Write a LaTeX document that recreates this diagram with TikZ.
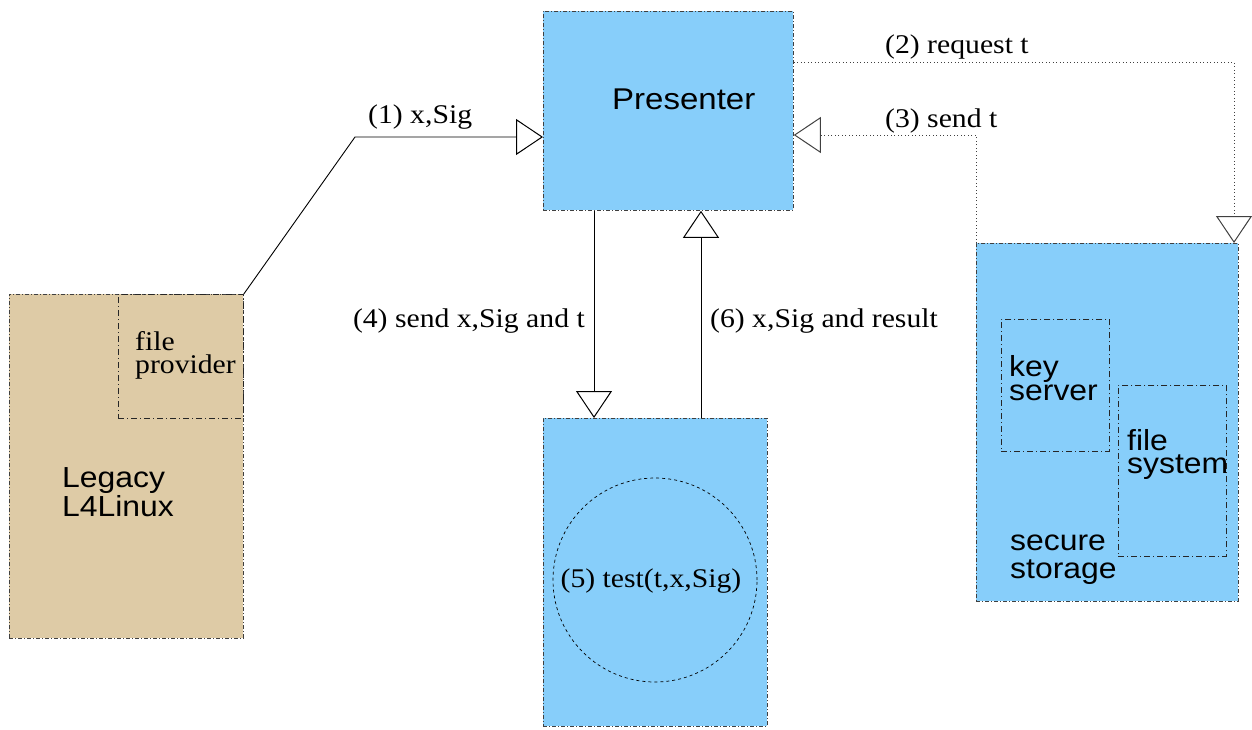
\documentclass[tikz,border=0pt]{standalone}
\usepackage{fontspec}
\setmainfont{Liberation Serif}[FakeStretch=1.1]
\setsansfont{Liberation Sans}[FakeStretch=1.1]
\usetikzlibrary{arrows.meta}
\definecolor{boxblue}{RGB}{135,206,250}
\definecolor{boxtan}{RGB}{222,203,166}
\tikzset{
  outerbox/.style={draw=black!75, line width=0.8pt, dash pattern=on 4pt off 2pt on 1pt off 2pt, inner sep=0pt, anchor=north west},
  innerbox/.style={draw=black!85, line width=0.8pt, dash pattern=on 6pt off 3pt on 1pt off 3pt, inner sep=0pt, anchor=north west},
  serlab/.style={font=\fontsize{27}{24}\selectfont, inner sep=0pt},
  sanslab/.style={font=\sffamily\fontsize{29}{26}\selectfont, inner sep=0pt, align=left},
  tri/.style={-{Triangle[open, length=27pt, width=36pt, line width=1pt]}},
  solidcon/.style={line width=0.9pt, black},
  dotcon/.style={line width=0.9pt, black!75, dash pattern=on 1pt off 2.5pt},
}
\begin{document}
\begin{tikzpicture}[x=1pt,y=-1pt]
\useasboundingbox (0,0) rectangle (1252,729);
% boxes
\node[outerbox, fill=boxblue, minimum width=250pt, minimum height=199pt] (presenter) at (543,11) {};
\node[outerbox, fill=boxtan, minimum width=234pt, minimum height=344pt] (legacy) at (9,294) {};
\node[innerbox, minimum width=125pt, minimum height=124pt] (fileprov) at (118,294) {};
\node[outerbox, fill=boxblue, minimum width=224pt, minimum height=308pt] (test) at (543,418) {};
\node[outerbox, fill=boxblue, minimum width=262pt, minimum height=358pt] (storage) at (976,243) {};
\node[innerbox, minimum width=108pt, minimum height=132pt] (keysrv) at (1001,319) {};
\node[innerbox, minimum width=108pt, minimum height=171pt] (filesys) at (1118,385) {};
\node[draw=black, line width=0.7pt, dash pattern=on 3pt off 3pt, circle, minimum size=204pt, inner sep=0pt] (testcircle) at (655,580) {};
% box texts (base anchor = baseline of last line)
\node[sanslab, font=\sffamily\fontsize{30}{26}\selectfont, anchor=base west] (presentertxt) at (612,109) {Presenter};
\node[sanslab, font=\sffamily\fontsize{29}{27}\selectfont, anchor=base west] (legacytxt) at (62,516) {Legacy\\L4Linux};
\node[serlab, align=left, font=\fontsize{27}{23}\selectfont, anchor=base west] (fileprovtxt) at (135,373) {file\\provider};
\node[sanslab, font=\sffamily\fontsize{29}{24}\selectfont, anchor=base west] (keysrvtxt) at (1009,400) {key\\server};
\node[sanslab, font=\sffamily\fontsize{29}{23}\selectfont, anchor=base west] (filesystxt) at (1127,473) {file\\system};
\node[sanslab, font=\sffamily\fontsize{29}{28}\selectfont, anchor=base west] (storagetxt) at (1010,578) {secure\\storage};
\node[serlab, anchor=base] (testtxt) at (651,587) {(5) test(t,x,Sig)};
% connectors
\coordinate (bend1) at (355,137);
\draw[solidcon, tri] (legacy.north east) -- (bend1) -- (presenter.west |- bend1);
\draw[dotcon, tri] (presenter.east |- 0,62) -| (storage.north -| 1234,0);
\draw[dotcon, tri] (storage.north west) |- (presenter.east |- 0,135);
\draw[solidcon, tri] (presenter.south -| 594,0) -- (test.north -| 594,0);
\draw[solidcon, tri] (test.north -| 701,0) -- (presenter.south -| 701,0);
% connector labels
\node[serlab, anchor=base west] (lab1) at (368,123) {(1) x,Sig};
\node[serlab, anchor=base west] (lab2) at (885,53) {(2) request t};
\node[serlab, anchor=base west] (lab3) at (885,127) {(3) send t};
\node[serlab, anchor=base east] (lab4) at (585,327) {(4) send x,Sig and t};
\node[serlab, anchor=base west] (lab6) at (710,327) {(6) x,Sig and result};
\end{tikzpicture}
\end{document}
